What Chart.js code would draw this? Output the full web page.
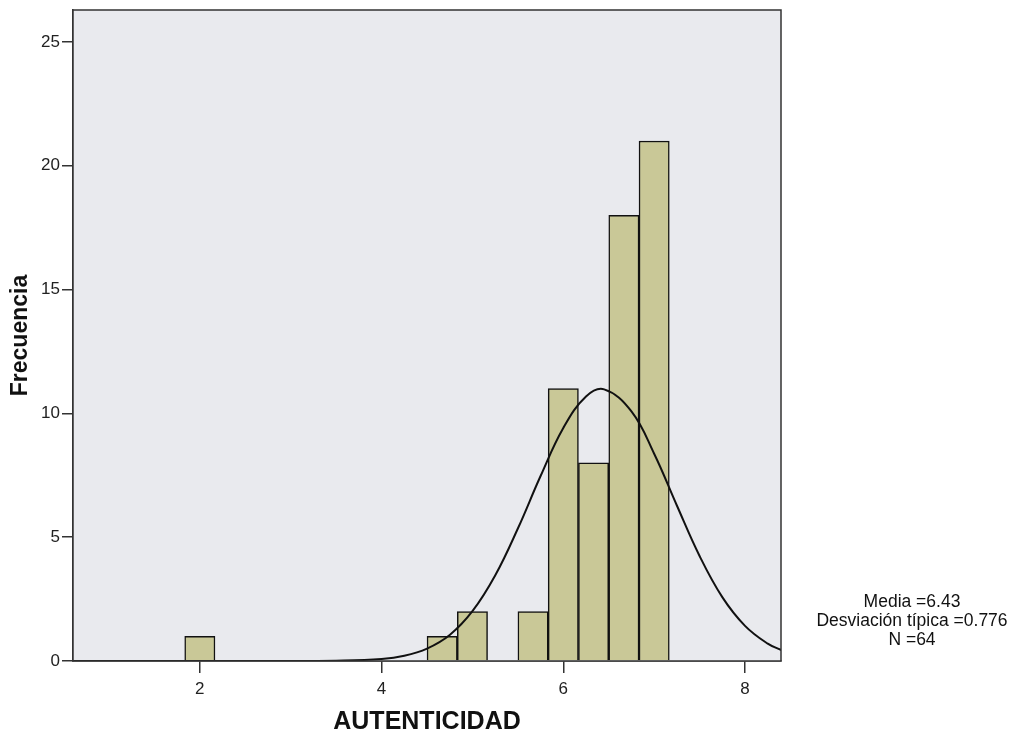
<!DOCTYPE html>
<html>
<head>
<meta charset="utf-8">
<script src="https://cdn.jsdelivr.net/npm/chart.js@4"></script>
<style>
  html, body { margin: 0; padding: 0; background: #ffffff; }
  #wrap { width: 1023px; height: 735px; }
</style>
</head>
<body>
<div id="wrap"><canvas id="myChart" width="1023" height="735"></canvas></div>
<script>
// histogram bins (centre of each bin, width 1/3) and counts
const binCenters = [2, 4.667, 5, 5.667, 6, 6.333, 6.667, 7];
const binCounts = [1, 1, 2, 2, 11, 8, 18, 21];

// normal curve
const curveX = [0.6, 3.0, 3.5, 4.0, 4.25, 4.5, 4.75, 5.0, 5.25, 5.5, 5.75, 6.0, 6.25, 6.45, 6.75, 7.0, 7.25, 7.5, 7.75, 8.0, 8.25, 8.4];
const curveY = [0, 0, 0.01, 0.08, 0.21, 0.5, 1.05, 2.01, 3.45, 5.35, 7.47, 9.41, 10.68, 10.97, 10.08, 8.37, 6.28, 4.24, 2.58, 1.42, 0.7, 0.44];

const yTicks = [0, 5, 10, 15, 20, 25];
const xTicks = [2, 4, 6, 8];

const statsLines = ["Media =6.43", "Desviación típica =0.776", "N =64"];

const fontFamily = "'Liberation Sans', Arial, sans-serif";

const plotFrame = {
    id: "plotFrame",
    beforeDatasetsDraw(chart) {
        const { ctx, chartArea: a } = chart;
        ctx.save();
        ctx.fillStyle = "#e9eaee";
        ctx.fillRect(a.left, a.top, a.right - a.left, a.bottom - a.top);
        ctx.restore();
    },
    afterDraw(chart) {
        const { ctx, chartArea: a } = chart;
        ctx.save();
        ctx.strokeStyle = "#333333";
        ctx.lineWidth = 1.5;
        ctx.strokeRect(a.left, a.top, a.right - a.left, a.bottom - a.top);
        // stats box
        ctx.fillStyle = "#111111";
        ctx.font = "17.5px " + fontFamily;
        ctx.textAlign = "center";
        ctx.textBaseline = "middle";
        statsLines.forEach((t, i) => ctx.fillText(t, 912, 602 + i * 19));
        ctx.restore();
    },
};

const data = {
    datasets: [
        {
            type: "line",
            data: curveX.map((x, i) => ({ x: x, y: curveY[i] })),
            borderColor: "#111111",
            borderWidth: 2,
            pointRadius: 0,
            tension: 0.4,
            fill: false,
        },
        {
            type: "bar",
            data: binCenters.map((x, i) => ({ x: x, y: binCounts[i] })),
            backgroundColor: "#c9c897",
            borderColor: "#111111",
            borderWidth: 1.5,
            barPercentage: 1,
            categoryPercentage: 1,
        },
    ],
};

const config = {
    type: "bar",
    data: data,
    options: {
        responsive: false,
        animation: false,
        layout: { padding: { left: 0, right: 242, top: 10, bottom: 0 } },
        plugins: {
            legend: { display: false },
            tooltip: { enabled: false },
        },
        scales: {
            x: {
                type: "linear",
                min: 0.604,
                max: 8.396,
                offset: false,
                afterFit: (scale) => { scale.height = 74; scale.paddingLeft = 0; scale.paddingRight = 0; },
                afterBuildTicks: (scale) => { scale.ticks = xTicks.map((v) => ({ value: v })); },
                grid: { offset: false, drawOnChartArea: false, tickLength: 12, color: "#333333", lineWidth: 1.5 },
                border: { color: "#333333", width: 1.5 },
                ticks: { color: "#222222", padding: 6, font: { family: fontFamily, size: 17 } },
                title: {
                    display: true,
                    text: "AUTENTICIDAD",
                    color: "#111111",
                    padding: { top: 14, bottom: 0 },
                    font: { family: fontFamily, size: 25, weight: "bold", lineHeight: 1 },
                },
            },
            y: {
                min: 0,
                max: 26.29,
                afterFit: (scale) => { scale.width = 73; scale.paddingTop = 0; scale.paddingBottom = 0; },
                afterBuildTicks: (scale) => { scale.ticks = yTicks.map((v) => ({ value: v })); },
                grid: { drawOnChartArea: false, tickLength: 11, color: "#333333", lineWidth: 1.5 },
                border: { color: "#333333", width: 1.5 },
                ticks: { color: "#222222", padding: 2, font: { family: fontFamily, size: 17 } },
                title: {
                    display: true,
                    text: "Frecuencia",
                    color: "#111111",
                    padding: { top: 7, bottom: 2 },
                    font: { family: fontFamily, size: 23, weight: "bold" },
                },
            },
        },
    },
    plugins: [plotFrame],
};

const myChart = new Chart(document.getElementById("myChart"), config);
</script>
</body>
</html>
